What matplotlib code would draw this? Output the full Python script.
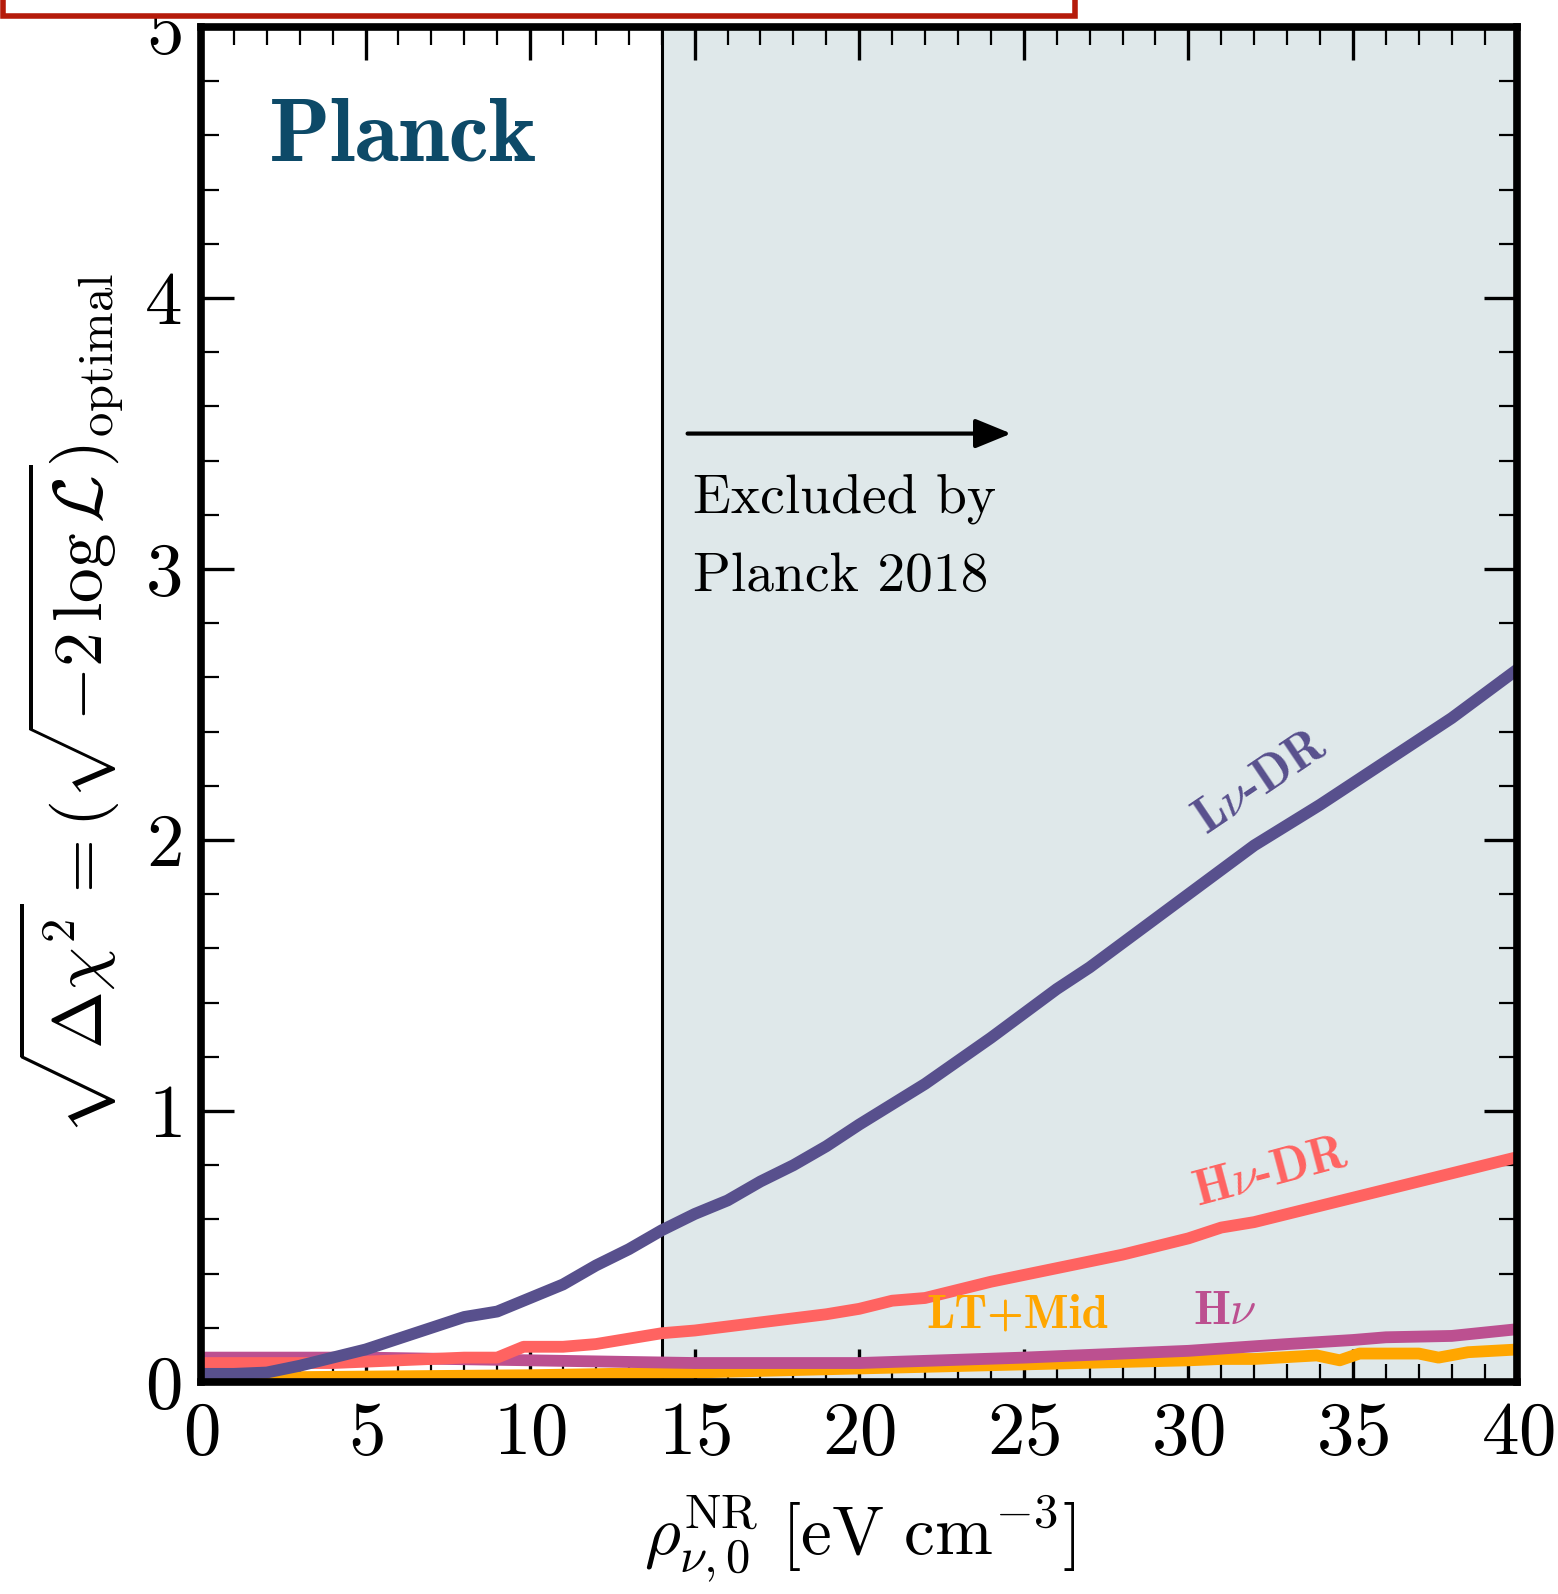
import matplotlib
matplotlib.use("Agg")
import matplotlib.pyplot as plt
from matplotlib.patches import Rectangle

plt.rcParams['mathtext.fontset'] = 'cm'
plt.rcParams['font.family'] = 'cmr10'
plt.rcParams['axes.formatter.use_mathtext'] = True

# -----------------------------
# data
# -----------------------------
lnu_x = [0, 1, 2, 3, 4, 5, 6, 7, 8, 9, 10, 11, 12, 13, 14, 15, 16, 17, 18, 19,
         20, 22, 24, 25, 26, 27, 28, 30, 32, 34, 35, 36, 38, 40]
lnu_y = [0.03, 0.03, 0.035, 0.06, 0.09, 0.12, 0.16, 0.20, 0.24, 0.26, 0.31, 0.36,
         0.43, 0.49, 0.56, 0.62, 0.67, 0.74, 0.80, 0.87, 0.95, 1.10, 1.27, 1.36,
         1.45, 1.53, 1.62, 1.80, 1.98, 2.13, 2.21, 2.29, 2.45, 2.63]

hnudr_x = [0, 2, 4, 6, 8, 9, 9.8, 11, 12, 13, 14, 15, 17, 19, 20, 21, 22, 24, 26,
           28, 30, 31, 32, 34, 36, 38, 40]
hnudr_y = [0.07, 0.07, 0.07, 0.08, 0.09, 0.09, 0.13, 0.13, 0.14, 0.16, 0.18, 0.19,
           0.22, 0.25, 0.27, 0.30, 0.31, 0.37, 0.42, 0.47, 0.53, 0.57, 0.59, 0.65,
           0.71, 0.77, 0.83]

hnu_x = [0, 5, 10, 15, 20, 25, 30, 33, 35, 36, 38, 40]
hnu_y = [0.09, 0.09, 0.08, 0.07, 0.07, 0.09, 0.115, 0.14, 0.155, 0.165, 0.17, 0.195]

ltmid_x = [0, 5, 10, 15, 20, 25, 30, 31, 32, 33.9, 34.6, 35.2, 37, 37.6, 38.5, 40]
ltmid_y = [0.015, 0.02, 0.025, 0.035, 0.05, 0.065, 0.08, 0.085, 0.085, 0.098,
           0.08, 0.105, 0.105, 0.09, 0.11, 0.12]

planck_limit = 14.0

c_lnu = '#58508d'
c_hnudr = '#ff6361'
c_hnu = '#bc5090'
c_lt = '#ffa600'

fig = plt.figure(figsize=(15.58, 15.94), dpi=100)
ax = fig.add_axes([0.129, 0.133, 0.845, 0.85])

ax.axvspan(planck_limit, 40, color='#dfe8ea', zorder=0)
ax.axvline(planck_limit, color='black', lw=2.2, zorder=1)

ax.plot(ltmid_x, ltmid_y, color=c_lt, lw=8.5, zorder=3)
ax.plot(hnu_x, hnu_y, color=c_hnu, lw=8.5, zorder=3)
ax.plot(hnudr_x, hnudr_y, color=c_hnudr, lw=8.5, zorder=3)
ax.plot(lnu_x, lnu_y, color=c_lnu, lw=8.5, zorder=3)

ax.set_xlim(0, 40)
ax.set_ylim(0, 5)
ax.set_xticks(range(0, 41, 5))
ax.set_xticks(range(0, 41), minor=True)
ax.set_yticks(range(0, 6))
ax.set_yticks([i * 0.2 for i in range(26)], minor=True)
ax.tick_params(which='both', direction='in', top=True, right=True, zorder=5)
ax.tick_params(which='major', length=24, width=2.4, labelsize=54, pad=14)
ax.tick_params(which='minor', length=13, width=1.6)
for s in ax.spines.values():
    s.set_linewidth(5.5)
    s.set_zorder(6)

ax.set_xlabel(r'$\rho_{\nu,0}^{\rm NR}\ [\rm eV\ cm^{-3}]$', fontsize=50, labelpad=18)
ax.set_ylabel(r'$\sqrt{\Delta\chi^2} = (\sqrt{-2\,\log\mathcal{L}})_{\rm optimal}$',
              fontsize=50, labelpad=12)

# texts
ax.text(2.05, 4.59, 'Planck', family='cmb10', fontsize=65, color='#0d4a68',
        ha='left', va='center')
ax.annotate('', xy=(24.7, 3.5), xytext=(14.7, 3.5),
            arrowprops=dict(arrowstyle='-|>,head_length=2.2,head_width=0.9',
                            color='black', lw=3))
ax.text(14.95, 3.26, 'Excluded by', fontsize=40, ha='left', va='center')
ax.text(14.95, 2.97, 'Planck 2018', fontsize=40, ha='left', va='center')

ax.text(32.2, 2.21, r'L$\nu$-DR', family='cmb10', fontsize=36, color=c_lnu,
        rotation=34, ha='center', va='center')
ax.text(32.5, 0.77, r'H$\nu$-DR', family='cmb10', fontsize=36, color=c_hnudr,
        rotation=15, ha='center', va='center')
ax.text(24.8, 0.245, 'LT+Mid', family='cmb10', fontsize=34, color=c_lt,
        ha='center', va='center')
ax.text(31.1, 0.26, r'H$\nu$', family='cmb10', fontsize=34, color=c_hnu,
        ha='center', va='center')

# cropped red box at the very top
fig.patches.append(Rectangle((3 / 1558, 1 - 16 / 1594), 1072 / 1558, 30 / 1594,
                             transform=fig.transFigure, facecolor='white',
                             edgecolor='#b51b0b', lw=4, zorder=10))

fig.savefig('out.png', dpi=100)
